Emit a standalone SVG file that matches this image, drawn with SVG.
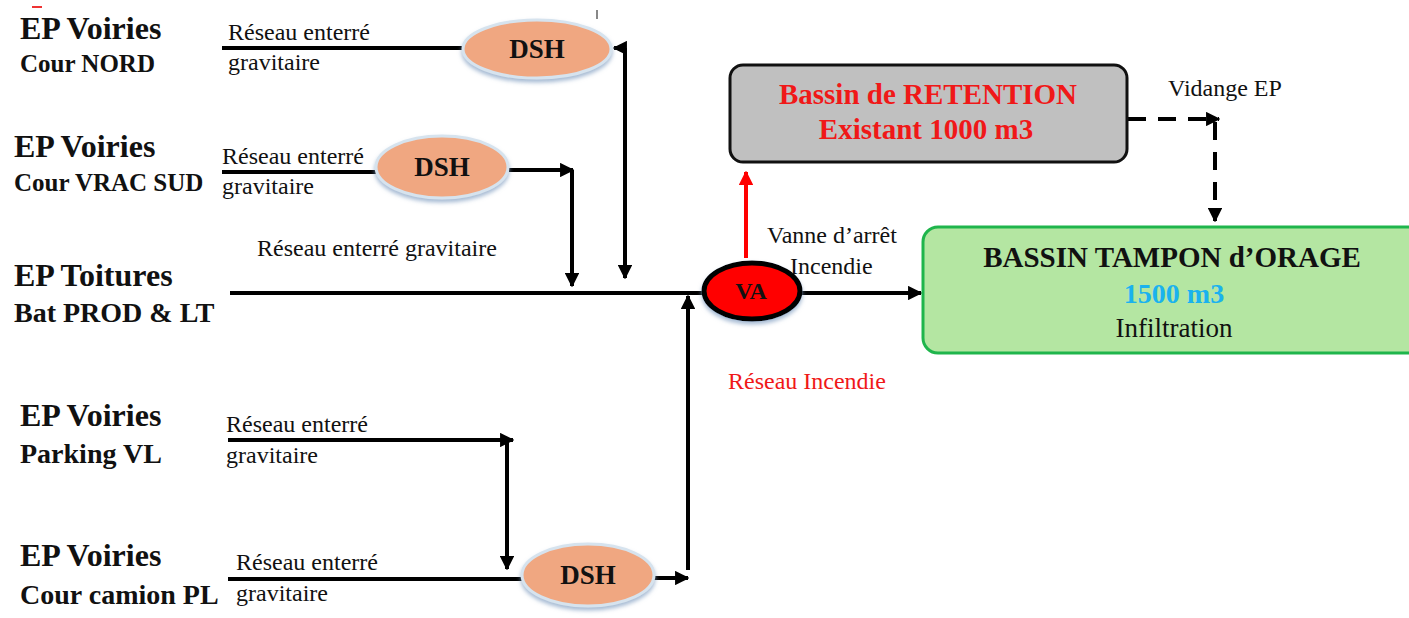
<svg xmlns="http://www.w3.org/2000/svg" width="1409" height="618" viewBox="0 0 1409 618">
<defs>
<style>
text{font-family:"Liberation Serif","Times New Roman",serif;fill:#111}
.src{font-weight:bold;font-size:32px}
.sub{font-weight:bold;font-size:25px}
.sub2{font-weight:bold;font-size:28px}
.lbl{font-size:24px}
.dsh{font-weight:bold;font-size:27px;text-anchor:middle}
.ttl{font-weight:bold;font-size:29px;text-anchor:middle}
.red{fill:#f01818}
.ln{stroke:#000;stroke-width:4;fill:none}
.dash{stroke-dasharray:18,12}
.ell{fill:#f0a781;stroke:#d6e3ee;stroke-width:3}
</style>
<marker id="ah" viewBox="0 0 10 10" refX="9" refY="5" markerWidth="3.6" markerHeight="3.6" orient="auto" markerUnits="strokeWidth"><path d="M0,0 L10,5 L0,10 z" fill="#000"/></marker>
<marker id="ahr" viewBox="0 0 10 10" refX="9" refY="5" markerWidth="3.6" markerHeight="3.6" orient="auto" markerUnits="strokeWidth"><path d="M0,0 L10,5 L0,10 z" fill="#f00"/></marker>
<filter id="sh" x="-20%" y="-20%" width="140%" height="150%"><feDropShadow dx="0" dy="3" stdDeviation="2" flood-color="#7d9bc0" flood-opacity="0.7"/></filter>
</defs>
<rect width="1409" height="618" fill="#fff"/>

<g id="connectors">
<path class="ln" d="M222,48 L463,48"/>
<path class="ln" d="M625,48 L625,278" marker-end="url(#ah)"/>
<path class="ln" d="M625,48 L614,48" marker-end="url(#ah)"/>
<path class="ln" d="M222,172 L377,172"/>
<path class="ln" d="M509,170 L573,170" marker-end="url(#ah)"/>
<path class="ln" d="M572,170 L572,286" marker-end="url(#ah)"/>
<path class="ln" d="M230,293 L705,293"/>
<path class="ln" d="M228,440 L513,440" marker-end="url(#ah)"/>
<path class="ln" d="M507,440 L507,569" marker-end="url(#ah)"/>
<path class="ln" d="M228,579 L522,579"/>
<path class="ln" d="M654,578 L688,578" marker-end="url(#ah)"/>
<path class="ln" d="M688,570 L688,296" marker-end="url(#ah)"/>
<path class="ln" d="M802,293 L921,293" marker-end="url(#ah)"/>
<path d="M746,258 L746,172" stroke="#f00" stroke-width="4" fill="none" marker-end="url(#ahr)"/>
<path class="ln dash" d="M1128,119 L1219,119" marker-end="url(#ah)"/>
<path class="ln dash" d="M1215,122 L1215,221" marker-end="url(#ah)"/>
<rect x="32" y="6" width="10" height="2" fill="#e33"/>
<rect x="596" y="10" width="2" height="9" fill="#888"/>
</g>

<g id="src-cour-nord">
<text class="src" x="20" y="39">EP Voiries</text>
<text class="sub" x="20" y="72">Cour NORD</text>
<text class="lbl" x="228" y="40">Réseau enterré</text>
<text class="lbl" x="228" y="70">gravitaire</text>
</g>
<g id="src-vrac-sud">
<text class="src" x="14" y="157">EP Voiries</text>
<text class="sub" x="14" y="191">Cour VRAC SUD</text>
<text class="lbl" x="222" y="164">Réseau enterré</text>
<text class="lbl" x="222" y="194">gravitaire</text>
</g>
<g id="src-toitures">
<text class="src" x="14" y="286">EP Toitures</text>
<text class="sub2" x="14" y="322">Bat PROD &amp; LT</text>
<text class="lbl" x="257" y="256">Réseau enterré gravitaire</text>
</g>
<g id="src-parking">
<text class="src" x="20" y="426">EP Voiries</text>
<text class="sub2" x="20" y="463">Parking VL</text>
<text class="lbl" x="226" y="432">Réseau enterré</text>
<text class="lbl" x="226" y="463">gravitaire</text>
</g>
<g id="src-camion">
<text class="src" x="20" y="566">EP Voiries</text>
<text class="sub2" x="20" y="604">Cour camion PL</text>
<text class="lbl" x="236" y="570">Réseau enterré</text>
<text class="lbl" x="236" y="601">gravitaire</text>
</g>

<g id="dsh1">
<ellipse class="ell" cx="537" cy="49" rx="74" ry="29" filter="url(#sh)"/>
<text class="dsh" x="537" y="58">DSH</text>
</g>
<g id="dsh2">
<ellipse class="ell" cx="442" cy="167" rx="66" ry="31" filter="url(#sh)"/>
<text class="dsh" x="442" y="176">DSH</text>
</g>
<g id="dsh3">
<ellipse class="ell" cx="588" cy="575" rx="66" ry="31" filter="url(#sh)"/>
<text class="dsh" x="588" y="584">DSH</text>
</g>

<g id="va">
<ellipse cx="752" cy="291" rx="48" ry="28" fill="#f00" stroke="#000" stroke-width="5" filter="url(#sh)"/>
<text x="751" y="299" font-weight="bold" font-size="24" text-anchor="middle">VA</text>
<text class="lbl" x="767" y="243">Vanne d’arrêt</text>
<text class="lbl" x="790" y="274">Incendie</text>
<text class="lbl red" x="728" y="389">Réseau Incendie</text>
</g>

<g id="retention">
<rect x="730" y="65" width="397" height="97" rx="13" fill="#c0c0c0" stroke="#111" stroke-width="3"/>
<text class="ttl red" x="928" y="104">Bassin de RETENTION</text>
<text class="ttl red" x="926" y="139">Existant 1000 m3</text>
<text class="lbl" x="1168" y="96">Vidange EP</text>
</g>

<g id="tampon">
<rect x="923" y="227" width="500" height="126" rx="15" fill="#b4e6a2" stroke="#1fb54c" stroke-width="3"/>
<text class="ttl" x="1172" y="267" font-size="28">BASSIN TAMPON d’ORAGE</text>
<text class="ttl" x="1174" y="303" style="font-size:28px;fill:#1ab2ee">1500 m3</text>
<text x="1174" y="337" font-size="27" text-anchor="middle">Infiltration</text>
</g>
</svg>
